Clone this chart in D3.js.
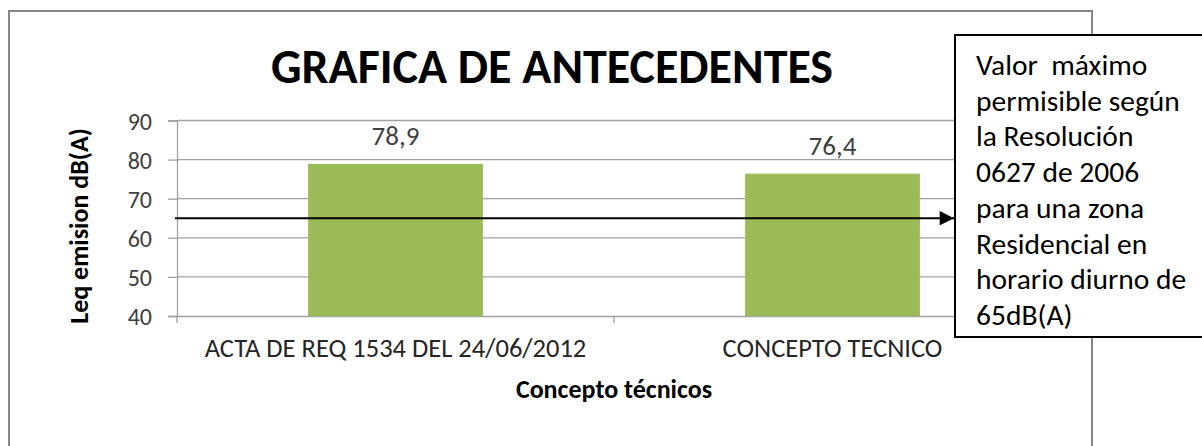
<!DOCTYPE html>
<html>
<head>
<meta charset="utf-8">
<script src="https://cdn.jsdelivr.net/npm/d3@7"></script>
<style>
  html, body { margin: 0; padding: 0; background: #fff; }
  svg text { font-family: Carlito, Calibri, Lato, "Open Sans", sans-serif; }
</style>
</head>
<body>
<div id="chart"></div>
<script>
// data
const categories = ['ACTA DE REQ 1534 DEL 24/06/2012', 'CONCEPTO TECNICO'];
const values = [78.9, 76.4];
const yTicks = [40, 50, 60, 70, 80, 90];
const limitValue = 65;
const title = 'GRAFICA DE ANTECEDENTES';
const yTitle = 'Leq emision dB(A)';
const xTitle = 'Concepto técnicos';
const noteLines = ['Valor  máximo', 'permisible según', 'la Resolución', '0627 de 2006',
  'para una zona', 'Residencial en', 'horario diurno de', '65dB(A)'];

const width = 1202, height = 446;
const plot = { left: 177, right: 1051, top: 120.5, bottom: 316 };
const grid = '#a0a0a0';

const svg = d3.select('#chart').append('svg').attr('width', width).attr('height', height);

svg.append('defs').append('marker')
  .attr('id', 'arrow').attr('viewBox', '0 0 10 10')
  .attr('refX', 10).attr('refY', 5)
  .attr('markerWidth', 7).attr('markerHeight', 6.5)
  .attr('markerUnits', 'strokeWidth').attr('orient', 'auto')
  .append('path').attr('d', 'M0,0 L10,5 L0,10 Z').attr('fill', '#000');

// chart frame
svg.append('rect').attr('x', 9).attr('y', 11).attr('width', 1083).attr('height', 460)
  .attr('fill', '#fff').attr('stroke', '#868686').attr('stroke-width', 2);

const x = d3.scaleBand().domain(categories).range([plot.left, plot.right])
  .paddingInner(0.6).paddingOuter(0.3);
const y = d3.scaleLinear().domain([40, 90]).range([plot.bottom, plot.top]);

// gridlines
svg.append('g').selectAll('line').data(yTicks.filter(d => d > 40)).join('line')
  .attr('x1', plot.left).attr('x2', plot.right)
  .attr('y1', d => y(d)).attr('y2', d => y(d))
  .attr('stroke', grid).attr('stroke-width', 1.3);

// y axis
const yAxis = svg.append('g').attr('transform', `translate(${plot.left},0)`)
  .call(d3.axisLeft(y).tickValues(yTicks).tickSize(9).tickPadding(16));
yAxis.select('.domain').attr('stroke', grid).attr('stroke-width', 1.3);
yAxis.selectAll('.tick line').attr('stroke', grid).attr('stroke-width', 1.3);
yAxis.selectAll('.tick text').attr('fill', '#404040').style('font-size', '24px').attr('dy', '0.36em');

// x axis
const xAxis = svg.append('g').attr('transform', `translate(0,${plot.bottom})`)
  .call(d3.axisBottom(x).tickSize(0).tickPadding(22));
xAxis.select('.domain').attr('stroke', grid).attr('stroke-width', 1.3);
xAxis.selectAll('.tick text').attr('fill', '#262626').style('font-size', '26.5px');
// category separators
const seps = [plot.left, (x(categories[0]) + x.bandwidth() + x(categories[1])) / 2, plot.right];
svg.append('g').selectAll('line').data(seps).join('line')
  .attr('x1', d => d).attr('x2', d => d)
  .attr('y1', plot.bottom).attr('y2', plot.bottom + 7)
  .attr('stroke', grid).attr('stroke-width', 1.3);

// bars
svg.append('g').selectAll('rect').data(values).join('rect')
  .attr('x', (d, i) => x(categories[i])).attr('width', x.bandwidth())
  .attr('y', d => y(d)).attr('height', d => y(40) - y(d))
  .attr('fill', '#9bbb59');

// value labels
svg.append('g').selectAll('text').data(values).join('text')
  .attr('x', (d, i) => x(categories[i]) + x.bandwidth() / 2)
  .attr('y', d => y(d) - 19)
  .attr('text-anchor', 'middle').attr('fill', '#404040').style('font-size', '27px')
  .text(d => String(d).replace('.', ','));

// limit line with arrow to the note box
const boxX = 955, boxY = 35;
svg.append('line')
  .attr('x1', plot.left - 2).attr('x2', boxX - 1)
  .attr('y1', y(limitValue)).attr('y2', y(limitValue))
  .attr('stroke', '#000').attr('stroke-width', 2.2)
  .attr('marker-end', 'url(#arrow)');

// note box
svg.append('rect').attr('x', boxX).attr('y', boxY).attr('width', 270).attr('height', 302)
  .attr('fill', '#fff').attr('stroke', '#000').attr('stroke-width', 2);
svg.append('g').selectAll('text').data(noteLines).join('text')
  .attr('x', boxX + 21).attr('y', (d, i) => 75 + i * 35.7)
  .attr('fill', '#000').style('font-size', '29.5px').style('white-space', 'pre')
  .text(d => d);

// titles
svg.append('text').attr('x', 552).attr('y', 83).attr('text-anchor', 'middle')
  .style('font-size', '48px').style('font-weight', 'bold').text(title);

svg.append('text').attr('transform', `translate(88,226) rotate(-90)`)
  .attr('text-anchor', 'middle').style('font-size', '26px').style('font-weight', 'bold')
  .text(yTitle);

svg.append('text').attr('x', (plot.left + plot.right) / 2).attr('y', 398)
  .attr('text-anchor', 'middle').style('font-size', '26px').style('font-weight', 'bold')
  .text(xTitle);
</script>
</body>
</html>
